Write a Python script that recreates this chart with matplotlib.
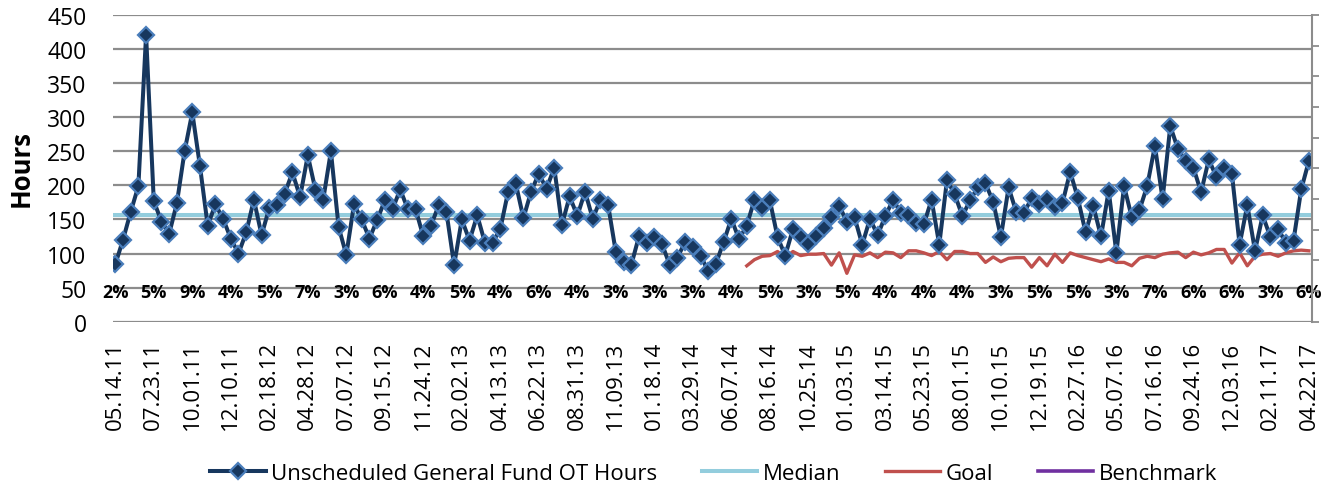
import numpy as np
import matplotlib
matplotlib.use("Agg")
import matplotlib.pyplot as plt

plt.rcParams.update({"font.family": ["Open Sans", "DejaVu Sans"], "font.size": 16})

NAVY = "#17375E"; EDGE = "#4A7EBB"; MED = "#93CDDD"; GOAL = "#C0504D"; BENCH = "#7030A0"; GRID = "#8c8c8c"

# biweekly unscheduled general fund OT hours (156 periods)
ot_hours = [84, 120, 161, 199, 421, 177, 147, 129, 174, 250,
            307, 228, 141, 172, 151, 122, 100, 131, 179, 127,
            167, 171, 188, 219, 183, 244, 193, 179, 250, 139,
            98, 172, 150, 122, 149, 178, 165, 194, 165, 165,
            125, 141, 171, 161, 83, 150, 119, 156, 116, 116,
            136, 190, 203, 152, 191, 217, 195, 226, 142, 184,
            155, 191, 151, 179, 171, 102, 87, 83, 125, 116,
            124, 114, 83, 94, 117, 109, 97, 74, 85, 117,
            151, 121, 141, 179, 167, 178, 124, 97, 136, 124,
            114, 126, 137, 153, 170, 147, 153, 113, 151, 127,
            155, 179, 160, 157, 145, 143, 179, 113, 208, 187,
            155, 178, 197, 203, 176, 124, 197, 161, 160, 181,
            173, 180, 168, 174, 220, 181, 131, 170, 125, 192,
            101, 199, 153, 164, 199, 258, 180, 287, 253, 236,
            226, 190, 238, 212, 226, 217, 113, 171, 104, 156,
            124, 136, 116, 119, 194, 236]
median_hours = 157
# goal starts at period 82
goal_start = 82
goal = [82, 91, 96, 97, 103, 94, 103, 97, 99, 99,
        100, 83, 101, 71, 98, 96, 101, 94, 102, 101,
        94, 104, 104, 101, 97, 103, 91, 103, 103, 100,
        100, 87, 95, 88, 93, 94, 94, 80, 94, 82,
        99, 87, 101, 97, 94, 91, 88, 92, 87, 87,
        82, 93, 96, 94, 99, 101, 102, 94, 102, 98,
        101, 106, 106, 86, 101, 82, 96, 99, 100, 96,
        101, 104, 105, 104]
benchmark = []
date_labels = ["05.14.11", "07.23.11", "10.01.11", "12.10.11", "02.18.12", "04.28.12",
               "07.07.12", "09.15.12", "11.24.12", "02.02.13", "04.13.13", "06.22.13",
               "08.31.13", "11.09.13", "01.18.14", "03.29.14", "06.07.14", "08.16.14",
               "10.25.14", "01.03.15", "03.14.15", "05.23.15", "08.01.15", "10.10.15",
               "12.19.15", "02.27.16", "05.07.16", "07.16.16", "09.24.16", "12.03.16",
               "02.11.17", "04.22.17"]
pct_labels = [2, 5, 9, 4, 5, 7, 3, 6, 4, 5, 4, 6, 4, 3, 3, 3,
              4, 5, 3, 5, 4, 4, 4, 3, 5, 5, 3, 7, 6, 6, 3, 6]
label_step = 5
pct_y = 44

n = len(ot_hours)
x = np.arange(n)
goal_full = np.full(n, np.nan)
goal_full[goal_start:goal_start + len(goal)] = goal

fig = plt.figure(figsize=(13.29, 4.89), dpi=100)
ax = fig.add_axes([0.085, 0.3401, 0.9022, 0.6272])

ax.plot(x, np.full(n, median_hours), color=MED, lw=2.9, zorder=2, label="Median")
ax.plot(x, goal_full, color=GOAL, lw=2.4, zorder=3, label="Goal")
ax.plot(x, ot_hours, color=NAVY, lw=2.9, marker="D", ms=8, mfc=NAVY, mec=EDGE, mew=1.6,
        zorder=4, label="Unscheduled General Fund OT Hours")
ax.plot(benchmark, benchmark, color=BENCH, lw=2.6, label="Benchmark")

for k, p in enumerate(pct_labels):
    ax.text(k * label_step, pct_y, f"{p}%", ha="center", va="center",
            fontsize=13, fontweight="bold", zorder=5)

ax.set_xlim(-0.3, n - 1 + 0.4)
ax.set_ylim(0, 450)
ax.set_yticks(np.arange(0, 451, 50))
ax.set_xticks(x[::label_step])
ax.set_xticklabels(date_labels, rotation=90, va="top")
ax.tick_params(axis="y", length=0, pad=19, labelsize=16.5)
ax.tick_params(axis="x", length=0, pad=14)
ax.grid(axis="y", color=GRID, lw=1.6)
ax.set_axisbelow(True)
for s in ax.spines.values():
    s.set_visible(False)

ax2 = ax.twinx()
ax2.set_ylim(0, 10)
ax2.set_yticks(range(11))
ax2.set_yticklabels([])
ax2.tick_params(axis="y", direction="out", length=5, width=1.3, color=GRID)
for side in ["left", "top", "bottom"]:
    ax2.spines[side].set_visible(False)
ax2.spines["right"].set_color(GRID)
ax2.spines["right"].set_linewidth(1.5)

fig.text(0.0158, 0.655, "Hours", rotation=90, ha="center", va="center",
         fontsize=18.5, fontweight="bold")

h, l = ax.get_legend_handles_labels()
order = [2, 0, 1, 3]
fig.legend([h[i] for i in order], [l[i] for i in order], loc="center",
           bbox_to_anchor=(0.537, 0.03), ncol=4, frameon=False,
           handlelength=2.5, handletextpad=0.25, columnspacing=2.0, fontsize=16)

fig.savefig("out.png", dpi=100)
